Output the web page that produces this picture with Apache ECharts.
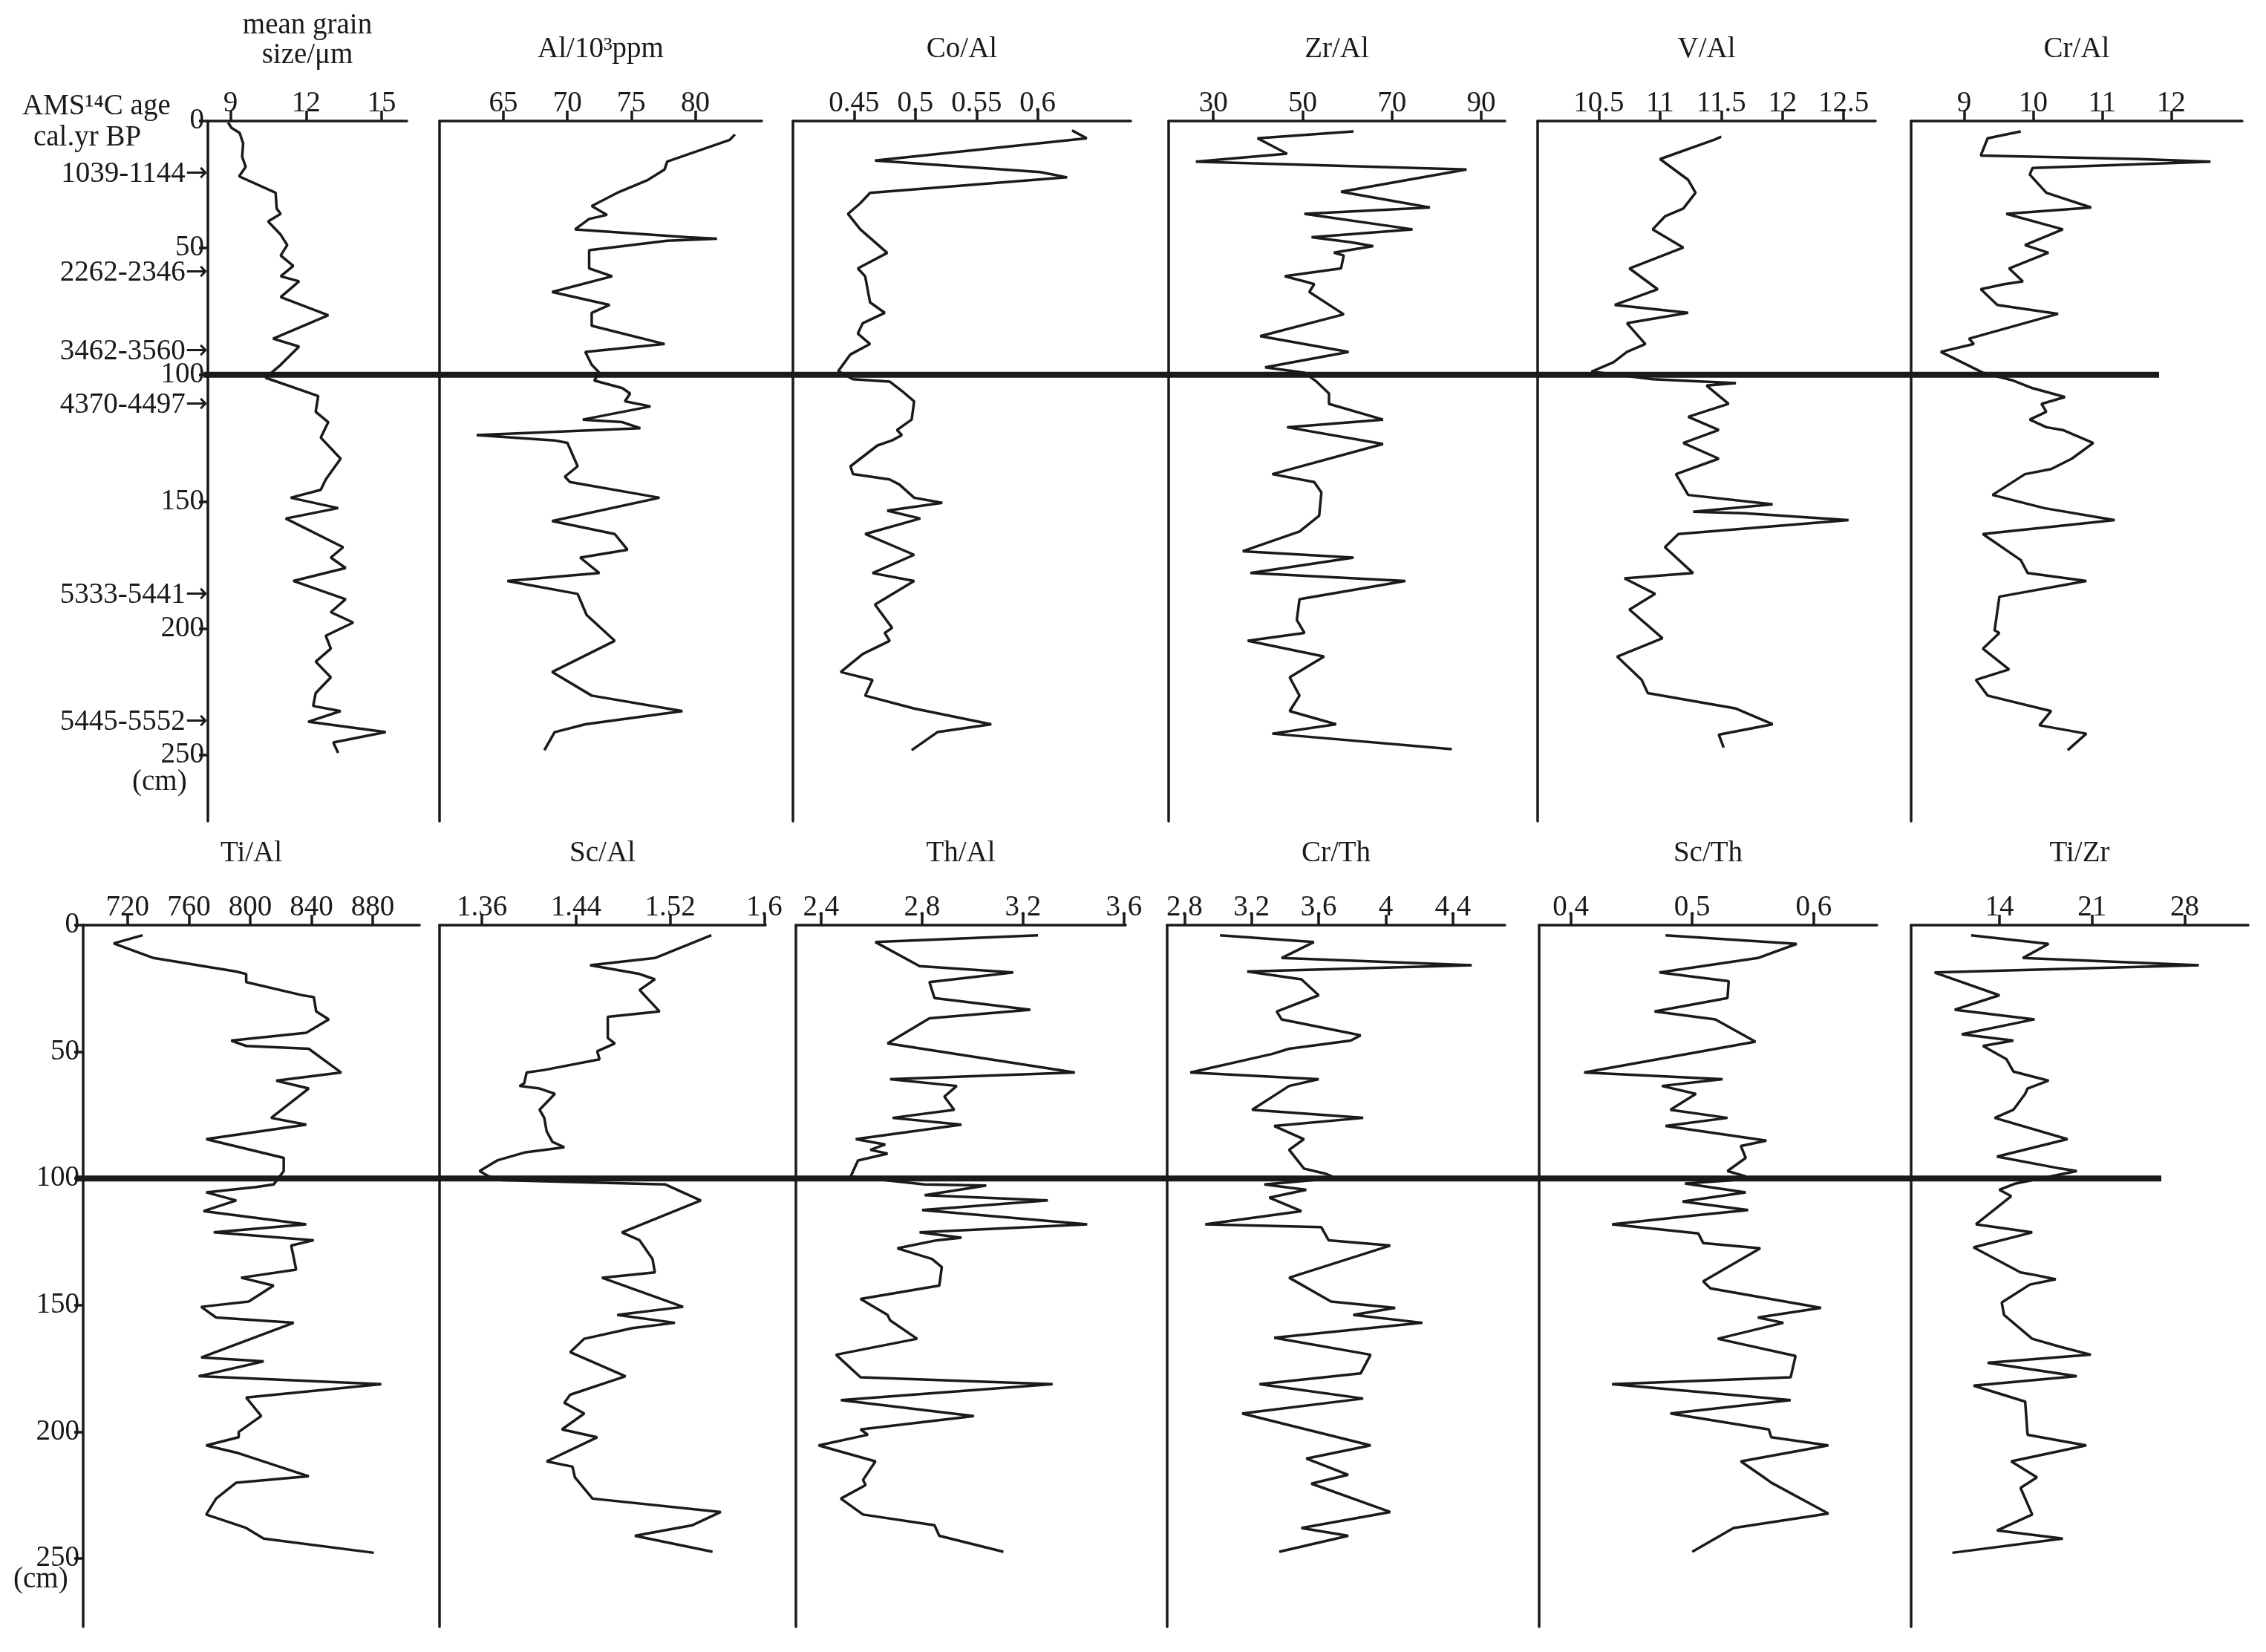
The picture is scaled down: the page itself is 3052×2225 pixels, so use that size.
<!DOCTYPE html>
<html><head><meta charset="utf-8">
<script src="https://cdn.jsdelivr.net/npm/echarts@6/dist/echarts.min.js"></script>
<style>html,body{margin:0;padding:0;background:#fff}#c{width:3052px;height:2225px}</style>
</head><body><div id="c"></div>
<script>
// ---- depth (cm) and values ----
const grainDepth=[0.6,2.7,4.7,8.8,14,18.1,21.8,28.3,34.5,36.6,39.6,44.8,48.9,53,57.1,61.2,63.2,69.4,76.6,85.8,88.9,96.1,101.2,108.4,114.6,118.7,124.8,133.1,141.3,145.4,148.5,152.6,156.7,168,172.1,176.2,181.3,188.5,193.6,197.7,202.9,208,213.1,219.3,225.5,230.6,232.6,236.8,240.9,245,249.1];
const grainVal=[8.9,9.04,9.36,9.5,9.46,9.6,9.34,10.79,10.83,10.99,10.49,10.99,11.25,10.99,11.49,10.99,11.72,10.99,12.88,10.69,11.72,10.99,10.39,12.48,12.38,12.88,12.58,13.37,12.78,12.58,11.39,13.27,11.19,13.47,12.98,13.57,11.49,13.57,12.98,13.87,12.78,12.98,12.38,12.98,12.38,12.28,13.37,12.08,15.16,13.08,13.27];
const alDepth=[5.3,7.4,16,19.1,23.2,28.3,33.5,37,38.6,42.7,45.8,46.4,47.2,50.9,58.1,61.2,67.4,72.5,75.6,80.7,87.9,91,96.1,99.2,102.3,105.3,107.4,110.5,112.5,117.7,118.7,121.1,123.8,125.9,126.9,136.1,140.2,142.3,148.5,157.7,162.8,169,172.1,178.2,181.3,186.4,194.7,204.9,217.2,226.5,232.6,237.8,240.9,248];
const alVal=[83.1,82.7,77.8,77.6,76.3,73.9,71.9,73.1,71.7,70.6,79.4,81.7,77.8,71.7,71.7,73.5,68.8,73.3,71.9,71.9,77.6,71.4,71.9,72.5,72.1,74.3,74.9,74.5,76.5,71.2,74.3,75.7,62.9,69,70,70.8,69.8,70.2,77.2,68.8,73.7,74.7,71,72.5,65.3,70.8,71.5,73.7,68.8,71.9,79,71.4,69,68.2];
const coDepth=[3.7,6.8,15.6,20.1,22.2,28.3,32.4,36.6,42.7,52,58.1,61.2,71.5,75.6,79.7,83.8,87.9,92,98.6,101.8,102.7,106.4,110.5,117.7,121.8,123.8,125.9,127.9,136.1,139.2,141.3,143.3,148.5,150.5,153.6,156.7,162.8,171,178.2,181.3,190.6,199.8,201.8,204.9,210.1,217.2,220.3,226.5,231.6,237.8,240.9,248];
const coVal=[0.628,0.64,0.467,0.602,0.624,0.463,0.455,0.445,0.455,0.477,0.453,0.459,0.463,0.475,0.457,0.453,0.463,0.447,0.437,0.449,0.479,0.489,0.499,0.497,0.485,0.489,0.481,0.469,0.447,0.449,0.479,0.487,0.499,0.522,0.477,0.504,0.459,0.499,0.465,0.499,0.467,0.481,0.475,0.479,0.457,0.439,0.465,0.459,0.499,0.562,0.518,0.497];
const zrDepth=[4.1,6.8,12.9,16,19.1,27.9,34.1,36.6,42.7,45.8,47.8,49.3,51.9,53,58.1,61.2,63.2,64.3,67.4,76.2,84.8,91,97.1,99.2,102.7,107.4,111.5,117.7,120.7,127.3,139.2,142.3,146.4,155.6,161.8,169.6,172.1,178.2,181.3,188.5,196.7,201.8,204.9,211.1,219.3,226.5,232.6,237.8,241.5,247.6];
const zrVal=[61.4,39.9,46.5,26.1,86.7,58.6,78.5,50.4,74.6,52,60.8,65.8,57,59.2,58.6,46,50.4,52.6,51.5,59.2,40.5,60.3,41.6,50.4,53.1,55.9,55.9,68,46.5,68,43.2,52.6,54.2,53.7,49.3,36.6,61.4,38.3,73,49.3,48.7,50.4,37.7,54.8,47.1,49.3,47.1,57.5,43.2,83.4];
const vDepth=[6.2,7.4,15,23.2,28.3,34.5,37.6,42.7,49.9,58.1,66.3,72.5,75.6,79.7,87.9,91,95.1,98.8,101.8,103.3,104.3,111.5,116.6,121.8,126.9,133.1,139.2,147.4,151.1,154,154.6,157.3,162.8,168,178.2,180.3,186.4,192.6,203.9,211.1,220.3,225.5,231.6,237.8,241.9,247];
const vVal=[11.5,11.44,11,11.23,11.29,11.19,11.04,10.94,11.19,10.75,10.98,10.63,11.23,10.73,10.88,10.73,10.62,10.44,10.94,11.62,11.38,11.56,11.23,11.48,11.19,11.48,11.13,11.23,11.92,11.27,11.69,12.54,11.15,11.04,11.27,10.71,10.96,10.75,11.02,10.65,10.85,10.9,11.62,11.92,11.48,11.52];
const crDepth=[4.1,6.8,13.6,15,16,18.5,21.1,28.3,34.1,36.6,42.7,48.9,51.9,58.1,63.2,64.3,66.3,72.5,76,85.8,87.9,91,99.2,102.3,105.3,108.8,111.5,114.6,117.7,120.7,121.8,126.9,133.1,137.2,139.2,147.4,152.6,157.3,162.8,173.1,178.2,181.3,187.5,200.8,201.8,208,216.2,220.3,226.5,232.6,238.2,241.5,248];
const crVal=[9.82,9.34,9.24,11.55,12.57,9.99,9.95,10.19,10.84,9.61,10.43,9.88,10.22,9.65,9.85,9.58,9.24,9.48,10.36,9.07,9.14,8.66,9.27,9.71,9.99,10.46,10.12,10.19,9.95,10.19,10.43,10.87,10.56,10.26,9.88,9.41,10.16,11.18,9.27,9.82,9.92,10.77,9.51,9.44,9.51,9.27,9.65,9.17,9.34,10.26,10.09,10.77,10.5];
const tiDepth=[4,7.2,13,18.3,19.3,22.5,27.8,28.4,34.1,37.2,42.5,45.6,47.7,48.8,58.2,61.4,64.5,76.1,78.8,84.5,90.2,91.9,97.1,102.4,103.4,105.5,108.7,112.9,118.1,121.3,124.4,126.5,136,139.2,142.3,148.6,150.7,154.9,157,170.7,172.2,178.1,181.2,186.5,193.8,200.1,202.2,205.4,208.5,217.6,220.1,226.4,232.7,238,242.2,247.8];
const tiVal=[729.8,710.9,737,790.9,797.4,797.4,834.9,841.5,843.1,851.3,836.6,787.6,797.4,838.2,859.4,817,838.2,813.7,836.6,771.3,810.4,821.9,821.9,815.3,803.9,771.3,790.9,769.6,836.6,776.2,841.5,826.8,830,794.1,815.3,799,768,777.8,828.4,768,808.8,766.4,885.6,797.4,807.2,792.5,792.5,771.3,792.5,838.2,790.9,777.8,771.3,797.4,808.8,880.7];
const scDepth=[4,13,15.8,19.3,21.4,25.6,34.1,36.2,44.6,46.7,49.8,53,57.2,58.2,62.4,63.5,64.5,66.6,72.9,76.1,81.4,85.6,87.7,89.8,92.9,97.1,99.2,100.7,102.4,108.7,121.3,124.4,131.8,137.1,139.2,150.7,153.9,157,159.1,163.3,168.6,178.1,185.4,188.6,192.8,199.1,202.2,211.7,213.8,218,226.4,231.7,236.9,241.1,247.4];
const scVal=[1.555,1.507,1.452,1.494,1.507,1.494,1.511,1.467,1.467,1.473,1.458,1.46,1.413,1.398,1.396,1.392,1.409,1.422,1.409,1.413,1.415,1.42,1.43,1.396,1.373,1.358,1.366,1.377,1.516,1.546,1.479,1.494,1.505,1.507,1.462,1.531,1.475,1.524,1.488,1.447,1.435,1.482,1.435,1.43,1.447,1.428,1.458,1.415,1.437,1.439,1.454,1.563,1.539,1.49,1.556];
const thDepth=[4,6.7,16.2,18.7,22.5,28.8,33.4,36.8,46.7,58.2,60.8,63.5,67.7,72.9,76.1,78.8,84.5,86.6,88.7,90.2,92.9,99.2,102.4,102.8,106.6,108.7,112.5,118.1,121.3,123.4,124.4,127.6,131.8,135,142.3,147.6,153.9,156,163.3,169.6,178.5,181.2,187.5,193.8,199.1,201.2,205.4,211.7,219,221.1,226.4,232.7,236.9,241.1,247.4];
const thVal=[3.259,2.615,2.79,3.161,2.829,2.849,3.229,2.829,2.663,3.405,2.673,2.937,2.888,2.927,2.683,2.956,2.537,2.654,2.595,2.663,2.546,2.517,2.81,3.054,2.81,3.298,2.8,3.454,2.79,2.956,2.859,2.702,2.839,2.878,2.868,2.556,2.663,2.673,2.78,2.459,2.556,3.317,2.478,3.005,2.556,2.585,2.39,2.615,2.566,2.576,2.478,2.566,2.849,2.868,3.122];
const crthDepth=[4,6.7,13,15.8,18.3,21.4,27.7,34.1,37.2,42.5,43.5,45.6,48.8,50.9,58.2,60.8,63.5,72.9,76.1,79.3,84.5,88.7,96.1,98.2,99.9,102.4,104.5,107.6,112.9,118.1,119.2,124.4,126.5,139.2,148.6,151.1,153.9,157,162.9,169.6,177,181.2,186.9,192.8,205.4,210.6,217,220.5,231.7,238,241.1,247.4];
const crthVal=[3.012,3.571,3.379,4.512,3.174,3.497,3.6,3.35,3.379,3.776,3.85,3.791,3.424,3.321,2.835,3.6,3.424,3.203,3.865,3.335,3.512,3.424,3.512,3.644,3.703,3.276,3.526,3.306,3.497,2.924,3.615,3.659,4.026,3.424,3.674,4.056,3.806,4.218,3.335,3.909,3.85,3.247,3.865,3.144,3.909,3.526,3.776,3.556,4.026,3.497,3.776,3.365];
const scthDepth=[4,7.4,13,18.7,22.1,28.8,34.1,37.2,46,58.2,60.8,63.5,66.6,72.9,76.1,79.3,85.1,87.2,91.9,97.1,99.2,100.7,102,105.5,109.1,112.5,114.6,118.1,121.7,125.5,127.6,140.6,143.4,151.1,154.9,157,163.3,170.1,178.5,181.2,187.5,192.8,199.1,202.2,205.4,211.7,218,220.1,232.3,238,247.4];
const scthVal=[0.478,0.586,0.554,0.473,0.53,0.529,0.469,0.519,0.552,0.411,0.525,0.475,0.503,0.482,0.529,0.478,0.561,0.54,0.544,0.529,0.544,0.534,0.494,0.544,0.492,0.546,0.502,0.434,0.505,0.509,0.556,0.509,0.515,0.606,0.554,0.575,0.521,0.585,0.581,0.434,0.581,0.482,0.563,0.565,0.612,0.54,0.559,0.565,0.612,0.534,0.5];
const tizrDepth=[4,7.4,13,15.8,18.7,27.7,33.4,37.2,43.1,45.6,47.7,52.9,57.8,61.4,64.5,66.6,72.9,76.1,84.5,91.4,96.1,97.1,102,104.5,107,118.1,121.3,127.2,137.1,138.1,139.8,141.9,149,153.9,163.3,166.5,169.6,172.8,178.1,181.8,188.1,201.2,205.4,211.7,218,222.2,232.7,239,242.2,247.8];
const tizrVal=[11.87,17.72,15.77,29.07,9.11,14,10.63,16.66,11.16,15.06,12.76,14.53,15.06,17.72,16.13,15.95,15.06,13.65,19.14,13.82,18.61,19.85,15.24,14,14.89,12.23,16.48,12.05,15.6,16.66,18.26,16.3,14.18,14.35,16.48,18.61,20.91,13.11,19.85,12.05,15.95,16.13,20.56,14.89,16.84,15.6,16.48,13.82,18.79,10.45];
// tick labels
const depthTicks=[0,50,100,150,200,250];
const ageDepths=[21,60,91,112,187,237];
const ageLabels=['1039-1144','2262-2346','3462-3560','4370-4497','5333-5441','5445-5552'];
const boundaryDepth=[100,100];
const panelTitles=['mean grain\nsize/μm','Al/10³ppm','Co/Al','Zr/Al','V/Al','Cr/Al','Ti/Al','Sc/Al','Th/Al','Cr/Th','Sc/Th','Ti/Zr'];
const panelTicks=[[9,12,15],[65,70,75,80],[0.45,0.5,0.55,0.6],[30,50,70,90],[10.5,11,11.5,12,12.5],[9,10,11,12],
 [720,760,800,840,880],[1.36,1.44,1.52,1.6],[2.4,2.8,3.2,3.6],[2.8,3.2,3.6,4,4.4],[0.4,0.5,0.6],[14,21,28]];
const panelRange=[[8.1,16],[60,85.2],[0.4,0.676],[20,95.3],[10,12.76],[8.23,13.03],[691,910.5],[1.324,1.601],[2.3,3.606],[2.697,4.71],[0.374,0.652],[7.33,32.8]];
const panelDepth=[grainDepth,alDepth,coDepth,zrDepth,vDepth,crDepth,tiDepth,scDepth,thDepth,crthDepth,scthDepth,tizrDepth];
const panelVal=[grainVal,alVal,coVal,zrVal,vVal,crVal,tiVal,scVal,thVal,crthVal,scthVal,tizrVal];

// layout
const rowTop=[163,1246], rowH=[943,945], rowMax=[276,277];
const boxes=[[280,268],[592,434],[1068,455],[1574,453],[2071,455],[2574,446],
             [112,453],[592,439],[1072,444],[1572,455],[2073,455],[2574,454]];
const FONT='Liberation Serif', C='#1a1a1a', FS=39;
const grid=[],xAxis=[],yAxis=[],series=[];
for(let i=0;i<12;i++){
  const r=i<6?0:1;
  grid.push({left:boxes[i][0],width:boxes[i][1],top:rowTop[r],height:rowH[r]});
  xAxis.push({type:'value',gridIndex:i,position:'top',min:panelRange[i][0],max:panelRange[i][1],
    name:panelTitles[i],nameLocation:'middle',nameGap:i===0?68:76,
    nameTextStyle:{fontFamily:FONT,fontSize:FS,color:C,lineHeight:40},
    axisLine:{show:true,lineStyle:{color:C,width:3.5}},
    axisTick:{show:true,length:14,lineStyle:{color:C,width:3.5},customValues:panelTicks[i]},
    axisLabel:{fontFamily:FONT,fontSize:FS,color:C,margin:4,customValues:panelTicks[i]},
    splitLine:{show:false}});
  const first=(i===0||i===6);
  yAxis.push({type:'value',gridIndex:i,min:0,max:rowMax[r],inverse:true,
    axisLine:{show:true,onZero:false,lineStyle:{color:C,width:3.5}},
    axisTick:{show:first,inside:false,length:12,lineStyle:{color:C,width:3.5},customValues:depthTicks},
    axisLabel:{show:first,fontFamily:FONT,fontSize:FS,color:C,margin:5,customValues:depthTicks},
    splitLine:{show:false}});
  series.push({type:'line',xAxisIndex:i,yAxisIndex:i,showSymbol:false,symbol:'none',
    lineStyle:{color:C,width:3.5},data:panelVal[i].map((v,k)=>[v,panelDepth[i][k]])});
}
// age labels axis on grid 0
yAxis.push({type:'value',gridIndex:0,min:0,max:rowMax[0],inverse:true,position:'left',
  axisLine:{show:false},axisTick:{show:false},splitLine:{show:false},
  axisLabel:{show:true,fontFamily:FONT,fontSize:FS,color:C,margin:0,customValues:ageDepths,
    formatter:v=>{const k=ageDepths.indexOf(v);return k>=0?ageLabels[k]+'{a|→}':'';},
    rich:{a:{fontFamily:'DejaVu Sans',fontSize:36,color:C}}}});
// boundary lines across each row
[[274,2634,0],[101,2810,1]].forEach(([l,w,r])=>{
  const gi=grid.length;
  grid.push({left:l,width:w,top:rowTop[r],height:rowH[r]});
  xAxis.push({type:'value',gridIndex:gi,min:0,max:1,show:false});
  yAxis.push({type:'value',gridIndex:gi,min:0,max:rowMax[r],inverse:true,show:false});
  series.push({type:'line',xAxisIndex:gi,yAxisIndex:yAxis.length-1,showSymbol:false,symbol:'none',
    lineStyle:{color:C,width:8},data:[[0,boundaryDepth[0]],[1,boundaryDepth[1]]]});
});
const chart=echarts.init(document.getElementById('c'),null,{renderer:'canvas'});
chart.setOption({backgroundColor:'#fff',animation:false,grid,xAxis,yAxis,series,
  graphic:[
    {type:'text',left:30,top:124,style:{text:'AMS¹⁴C age',font:'39px "Liberation Serif"',fill:C}},
    {type:'text',left:45,top:166,style:{text:'cal.yr BP',font:'39px "Liberation Serif"',fill:C}},
    {type:'text',left:178,top:1034,style:{text:'(cm)',font:'39px "Liberation Serif"',fill:C}},
    {type:'text',left:18,top:2108,style:{text:'(cm)',font:'39px "Liberation Serif"',fill:C}}
  ]});
</script></body></html>
